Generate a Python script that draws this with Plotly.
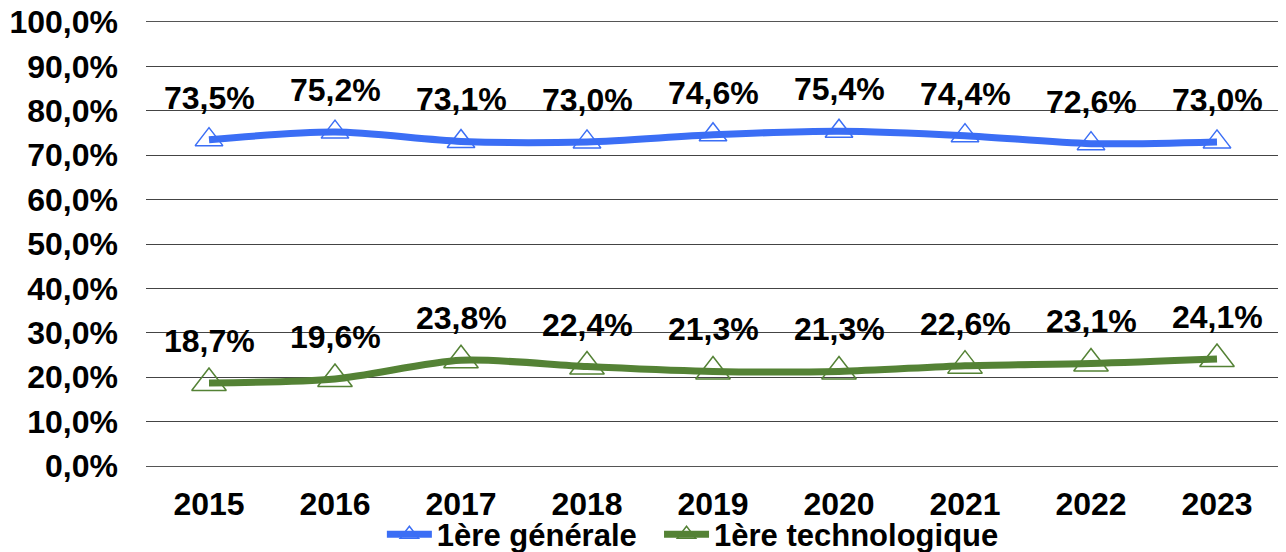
import plotly.graph_objects as go

years = ["2015", "2016", "2017", "2018", "2019", "2020", "2021", "2022", "2023"]
generale = [73.5, 75.2, 73.1, 73.0, 74.6, 75.4, 74.4, 72.6, 73.0]
techno = [18.7, 19.6, 23.8, 22.4, 21.3, 21.3, 22.6, 23.1, 24.1]
names = ["1ère générale", "1ère technologique"]
colors = ["#3B6EF5", "#548235"]
marker_sizes = [24, 30]

FONT = "Liberation Sans, Arial, sans-serif"
FS = 32

fig = go.Figure()
for k, (name, vals, col, ms) in enumerate(zip(names, [generale, techno], colors, marker_sizes)):
    label = "<b>" + name + "</b>" + ("\u00a0\u00a0" if k == 0 else "")
    fig.add_trace(go.Scatter(
        x=years, y=vals, name=label, mode="lines+markers",
        line=dict(color=col, width=7, shape="spline", smoothing=0.8),
        marker=dict(symbol="triangle-up-open", size=ms, color=col, line=dict(width=1.5, color=col)),
    ))
    for i, v in enumerate(vals):
        fig.add_annotation(
            x=i, y=v, xref="x", yref="y",
            text="<b>" + ("%.1f%%" % v).replace(".", ",") + "</b>", showarrow=False,
            yshift=42, font=dict(family=FONT, size=FS, color="black"),
        )

fig.update_layout(
    width=1278, height=544,
    margin=dict(l=138, r=6, t=14, b=86, autoexpand=False),
    paper_bgcolor="white", plot_bgcolor="white",
    separators=", ",
    font=dict(family=FONT, size=FS, color="black"),
    showlegend=True,
    legend=dict(orientation="h", x=0.208, xanchor="left",
                yref="container", y=0.032, yanchor="middle",
                font=dict(family=FONT, size=31, color="black"),
                itemwidth=45, tracegroupgap=0, bgcolor="rgba(0,0,0,0)"),
)
fig.update_xaxes(
    type="category", range=[-0.5, 8.5], showgrid=False,
    showline=True, mirror=True, linecolor="#555555", linewidth=1,
    tickfont=dict(family=FONT, size=FS, color="black"), ticks="",
    tickprefix="<b>", ticksuffix="</b>", automargin=False, ticklabelstandoff=10,
)
fig.update_yaxes(
    range=[0, 100], dtick=10, tickformat=".1f", tickprefix="<b>", ticksuffix="%</b>",
    showgrid=True, gridcolor="#444444", gridwidth=1,
    zeroline=True, zerolinecolor="#222222", zerolinewidth=1,
    tickfont=dict(family=FONT, size=FS, color="black"),
    ticks="", automargin=False, ticklabelstandoff=27, ticklabeloverflow="allow",
)

fig.write_html("out.html")
